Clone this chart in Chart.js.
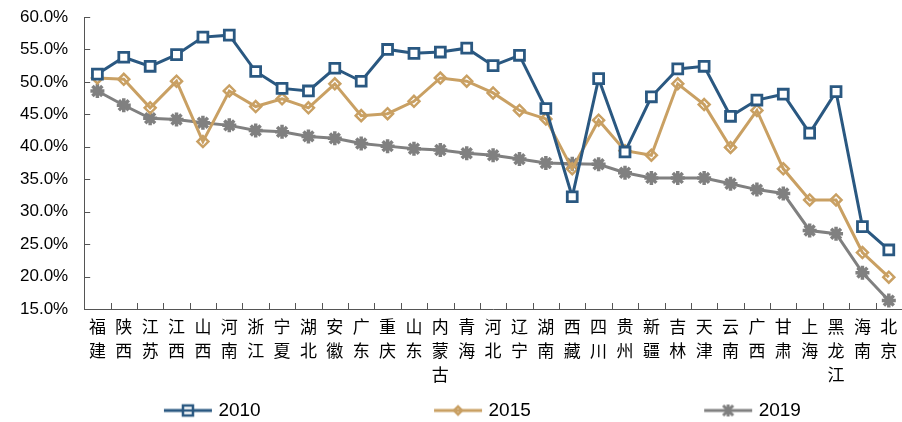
<!DOCTYPE html>
<html>
<head>
<meta charset="utf-8">
<script src="https://cdn.jsdelivr.net/npm/chart.js@4/dist/chart.umd.min.js"></script>
<style>
html,body{margin:0;padding:0;background:#fff;}
#wrap{width:902px;height:422px;position:relative;overflow:hidden;}
</style>
</head>
<body>
<div id="wrap"><canvas id="c" width="902" height="422"></canvas></div>
<script>
const provinces = ['福建','陕西','江苏','江西','山西','河南','浙江','宁夏','湖北','安徽','广东','重庆','山东','内蒙古','青海','河北','辽宁','湖南','西藏','四川','贵州','新疆','吉林','天津','云南','广西','甘肃','上海','黑龙江','海南','北京'];
const values2010 = [51.2,53.8,52.4,54.2,56.9,57.2,51.6,49.0,48.6,52.1,50.1,55.0,54.4,54.6,55.2,52.5,54.1,45.9,32.3,50.5,39.2,47.7,52.0,52.4,44.7,47.2,48.1,42.1,48.5,27.7,24.1];
const values2015 = [50.6,50.4,46.0,50.1,40.8,48.6,46.2,47.4,46.0,49.7,44.8,45.1,47.0,50.6,50.1,48.3,45.6,44.3,36.6,44.1,39.4,38.7,49.7,46.5,39.9,45.6,36.6,31.8,31.8,23.7,19.9];
const values2019 = [48.6,46.4,44.4,44.2,43.7,43.3,42.5,42.3,41.6,41.3,40.5,40.1,39.7,39.5,39.0,38.7,38.1,37.5,37.4,37.3,36.0,35.2,35.2,35.2,34.3,33.4,32.8,27.1,26.6,20.6,16.3];
const seriesNames = ['2010','2015','2019'];
const yTicks = [15,20,25,30,35,40,45,50,55,60];

const BLUE = '#2A5881', TAN = '#C9A063', GRAY = '#808080';

function legendImg(kind){
  const cv = document.createElement('canvas');
  cv.width = 60; cv.height = 18;
  const g = cv.getContext('2d');
  const cy = 9, x0 = 10, x1 = 58, xm = 34;
  g.lineCap = 'butt';
  if (kind === 0){
    g.strokeStyle = BLUE; g.lineWidth = 3;
    g.beginPath(); g.moveTo(x0,cy); g.lineTo(x1,cy); g.stroke();
    g.fillStyle = '#fff'; g.fillRect(xm-5,cy-5,10,10);
    g.lineWidth = 2.5; g.strokeRect(xm-5,cy-5,10,10);
    g.beginPath(); g.moveTo(xm-5,cy); g.lineTo(xm+5,cy); g.stroke();
  } else if (kind === 1){
    g.strokeStyle = TAN; g.lineWidth = 3;
    g.beginPath(); g.moveTo(x0,cy); g.lineTo(x1,cy); g.stroke();
    g.lineWidth = 2.5;
    g.beginPath(); g.moveTo(xm-4,cy); g.lineTo(xm,cy-4); g.lineTo(xm+4,cy); g.lineTo(xm,cy+4); g.closePath(); g.stroke();
  } else {
    g.strokeStyle = GRAY; g.lineWidth = 3;
    g.beginPath(); g.moveTo(x0,cy); g.lineTo(x1,cy); g.stroke();
    g.lineWidth = 3;
    g.beginPath();
    g.moveTo(xm-5,cy-5); g.lineTo(xm+5,cy+5);
    g.moveTo(xm+5,cy-5); g.lineTo(xm-5,cy+5);
    g.moveTo(xm,cy-6); g.lineTo(xm,cy+6);
    g.stroke();
  }
  return cv;
}
const legendImgs = [legendImg(0), legendImg(1), legendImg(2)];
// trailing blank space keeps the three legend entries spread across the width like the reference
const legendPads = [' '.repeat(30), ' '.repeat(30), ' '.repeat(5)];

const tickPlugin = {
  id: 'inwardTicks',
  afterDraw(chart){
    const ctx = chart.ctx;
    const xs = chart.scales.x, ys = chart.scales.y;
    const area = chart.chartArea;
    ctx.save();
    ctx.strokeStyle = '#555';
    ctx.lineWidth = 1;
    ys.ticks.forEach((t, i) => {
      const y = Math.round(ys.getPixelForTick(i)) + 0.5;
      ctx.beginPath(); ctx.moveTo(area.left, y); ctx.lineTo(area.left + 6, y); ctx.stroke();
    });
    const n = xs.ticks.length;
    const step = xs.getPixelForValue(1) - xs.getPixelForValue(0);
    for (let i = 0; i <= n; i++){
      const x = Math.round(xs.getPixelForValue(i) - step/2) + 0.5;
      ctx.beginPath(); ctx.moveTo(x, area.bottom); ctx.lineTo(x, area.bottom - 6); ctx.stroke();
    }
    ctx.restore();
  }
};

new Chart(document.getElementById('c'), {
  type: 'line',
  data: {
    labels: provinces.map(p => p.split('')),
    datasets: [
      { label: seriesNames[0], data: values2010, borderColor: BLUE, borderWidth: 3,
        pointStyle: 'rect', pointRadius: 7, pointBorderWidth: 2.8, pointBackgroundColor: '#fff', pointBorderColor: BLUE, tension: 0 },
      { label: seriesNames[1], data: values2015, borderColor: TAN, borderWidth: 3,
        pointStyle: 'rectRot', pointRadius: 5.5, pointBorderWidth: 2.5, pointBackgroundColor: 'rgba(255,255,255,0)', pointBorderColor: TAN, tension: 0 },
      { label: seriesNames[2], data: values2019, borderColor: GRAY, borderWidth: 3,
        pointStyle: 'star', pointRadius: 7, pointBorderWidth: 3.5, pointBackgroundColor: GRAY, pointBorderColor: GRAY, tension: 0 }
    ]
  },
  options: {
    responsive: false,
    animation: false,
    devicePixelRatio: 1,
    layout: { autoPadding: false, padding: { top: 17, right: 0, left: 4, bottom: -8 } },
    plugins: {
      tooltip: { enabled: false },
      legend: {
        position: 'bottom',
        fullSize: false,
        labels: {
          usePointStyle: true,
          pointStyleWidth: 50,
          boxHeight: 18,
          padding: 10,
          color: '#000',
          font: { family: 'Liberation Sans', size: 19 },
          generateLabels(chart){
            return chart.data.datasets.map((d, i) => ({
              text: d.label + legendPads[i], datasetIndex: i, pointStyle: legendImgs[i],
              fillStyle: d.borderColor, strokeStyle: d.borderColor, lineWidth: 0, hidden: false, fontColor: '#000'
            }));
          }
        }
      }
    },
    scales: {
      x: {
        offset: true,
        afterFit(scale){ scale.paddingLeft = 0; scale.paddingRight = 0; scale.height = 82; },
        grid: { display: true, drawOnChartArea: false, drawTicks: false, offset: true },
        border: { display: true, color: '#555', width: 1 },
        ticks: { autoSkip: false, maxRotation: 0, minRotation: 0, padding: 6, color: '#000',
          font: { family: 'Noto Sans CJK SC', size: 17, lineHeight: 1.41 } }
      },
      y: {
        min: 15, max: 60,
        afterBuildTicks(scale){ scale.ticks = yTicks.map(v => ({ value: v })); },
        afterFit(scale){ scale.paddingTop = 9; scale.paddingBottom = 9; },
        grid: { display: true, drawOnChartArea: false, drawTicks: false },
        border: { display: true, color: '#555', width: 1 },
        ticks: { autoSkip: false, padding: 16, color: '#000', font: { family: 'Liberation Sans', size: 17 },
          callback: v => v.toFixed(1) + '%' }
      }
    }
  },
  plugins: [tickPlugin]
});
</script>
</body>
</html>
